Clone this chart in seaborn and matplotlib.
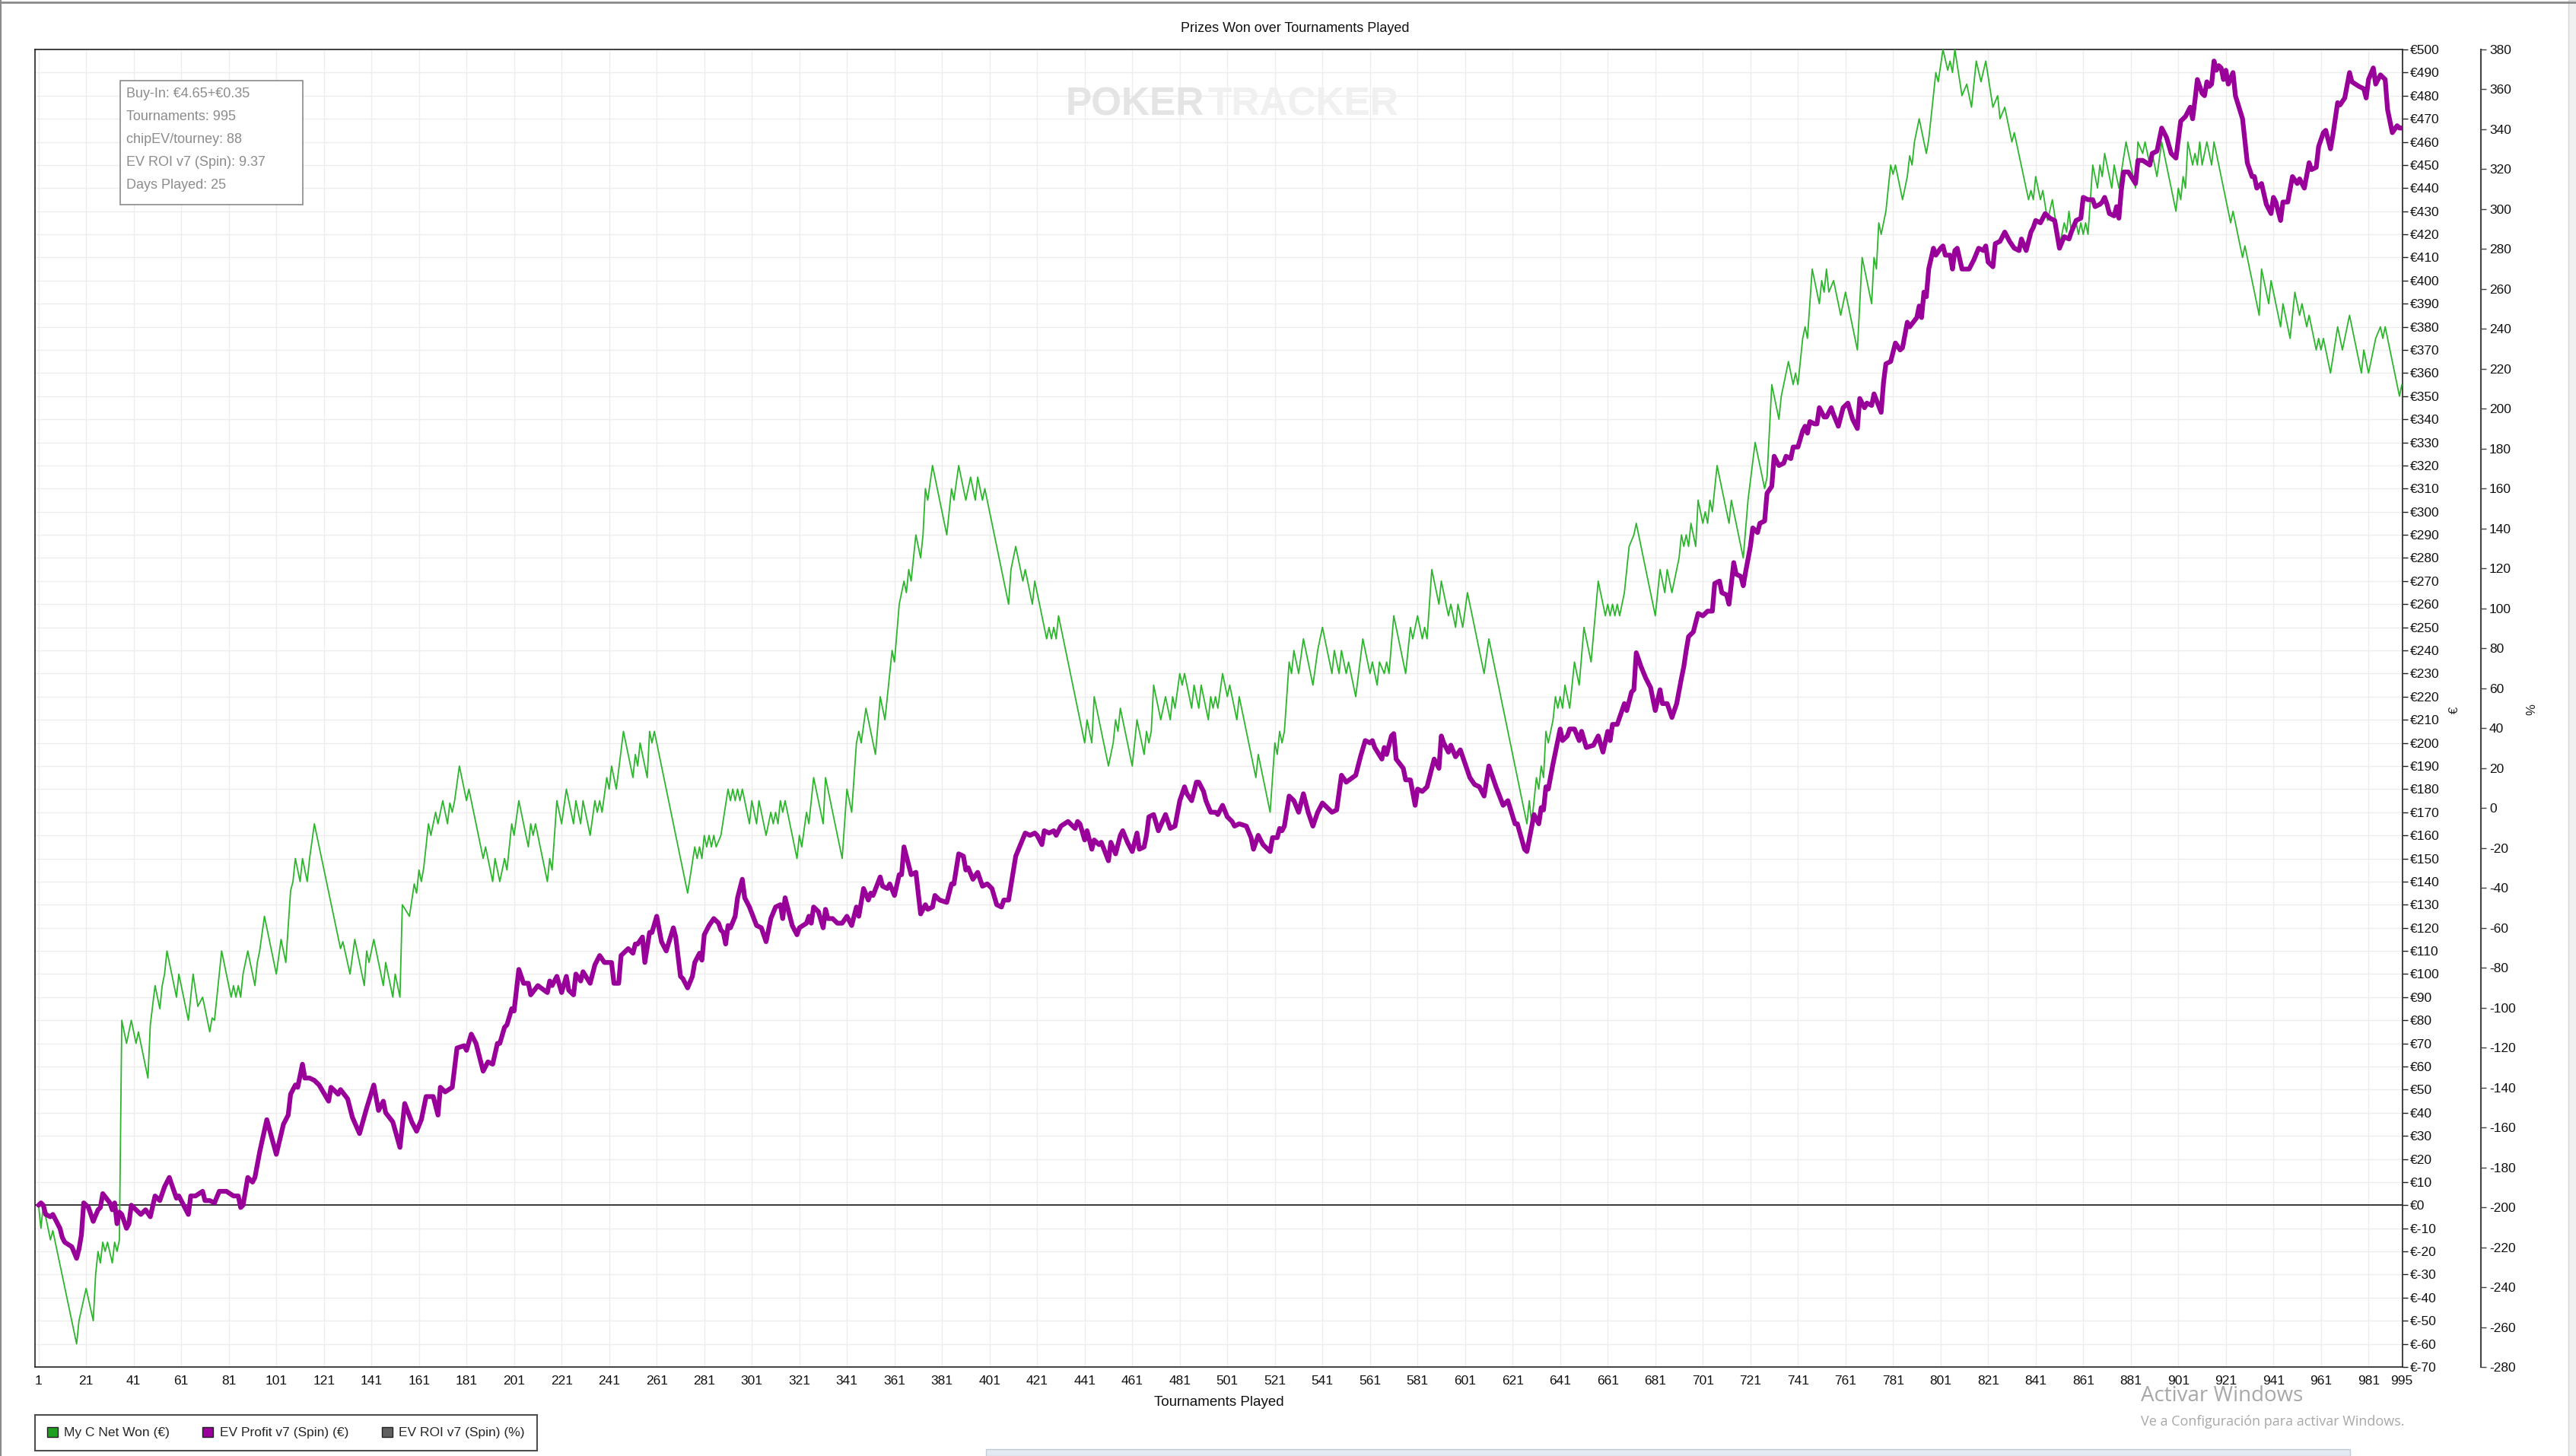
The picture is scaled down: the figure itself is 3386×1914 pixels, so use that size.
import matplotlib
matplotlib.use("Agg")
import matplotlib.pyplot as plt
from matplotlib.patches import Patch, Rectangle
from matplotlib.lines import Line2D
import seaborn as sns
import pandas as pd

# My C Net Won (€) - vertices
green_t = [1, 2, 3, 6, 7, 17, 18, 21, 24, 25,
           26, 27, 28, 29, 30, 32, 33, 34, 35, 36,
           38, 40, 42, 43, 47, 48, 50, 52, 53, 54,
           55, 59, 60, 64, 66, 68, 70, 73, 74, 75,
           78, 82, 83, 84, 85, 86, 87, 89, 92, 93,
           94, 96, 101, 103, 105, 107, 108, 109, 111, 112,
           114, 115, 117, 128, 129, 132, 134, 138, 139, 140,
           142, 146, 147, 150, 151, 153, 154, 157, 159, 160,
           161, 162, 163, 165, 166, 168, 169, 171, 173, 174,
           175, 176, 178, 181, 182, 188, 189, 192, 193, 195,
           197, 198, 200, 201, 203, 207, 208, 209, 210, 215,
           216, 217, 219, 221, 223, 226, 227, 229, 230, 233,
           235, 236, 237, 238, 240, 241, 242, 244, 247, 251,
           252, 253, 254, 257, 258, 259, 260, 274, 277, 278,
           279, 280, 281, 282, 283, 284, 285, 286, 288, 291,
           292, 293, 294, 295, 296, 297, 300, 301, 303, 304,
           307, 309, 310, 311, 312, 313, 314, 315, 320, 321,
           322, 324, 325, 327, 331, 332, 339, 341, 343, 345,
           346, 347, 349, 353, 355, 357, 360, 361, 363, 365,
           366, 367, 368, 370, 372, 373, 374, 375, 377, 383,
           385, 386, 388, 391, 393, 395, 396, 398, 399, 409,
           410, 412, 415, 416, 419, 420, 425, 426, 427, 428,
           429, 430, 441, 442, 444, 445, 451, 453, 454, 455,
           456, 461, 463, 466, 467, 468, 469, 470, 473, 475,
           477, 478, 479, 481, 482, 483, 486, 487, 489, 490,
           493, 494, 495, 496, 497, 499, 501, 502, 505, 506,
           513, 514, 519, 521, 522, 523, 524, 525, 527, 528,
           529, 531, 533, 537, 539, 541, 545, 546, 548, 549,
           551, 552, 555, 558, 561, 562, 564, 565, 567, 568,
           569, 571, 576, 578, 579, 581, 583, 584, 585, 587,
           590, 591, 594, 595, 597, 598, 600, 602, 609, 611,
           627, 628, 629, 631, 632, 633, 634, 635, 636, 638,
           639, 640, 641, 642, 643, 645, 647, 649, 651, 654,
           657, 660, 661, 662, 663, 664, 665, 666, 668, 670,
           672, 673, 681, 683, 685, 686, 688, 691, 692, 693,
           694, 695, 696, 698, 699, 701, 702, 703, 704, 705,
           707, 712, 713, 718, 720, 723, 727, 728, 730, 733,
           734, 737, 739, 740, 741, 743, 744, 745, 747, 750,
           751, 752, 753, 754, 756, 759, 761, 766, 768, 772,
           773, 774, 775, 776, 778, 780, 781, 782, 785, 787,
           788, 789, 790, 792, 795, 796, 799, 800, 802, 804,
           805, 806, 807, 810, 812, 814, 816, 818, 820, 823,
           825, 826, 828, 831, 832, 838, 839, 840, 841, 843,
           844, 846, 848, 851, 853, 854, 855, 856, 858, 859,
           860, 861, 862, 863, 865, 867, 868, 869, 870, 873,
           874, 876, 879, 883, 884, 886, 887, 889, 890, 892,
           894, 900, 901, 902, 903, 904, 905, 907, 908, 909,
           910, 911, 913, 915, 916, 923, 924, 928, 929, 935,
           936, 939, 940, 944, 945, 948, 950, 952, 953, 955,
           956, 959, 960, 961, 962, 965, 968, 970, 973, 978,
           979, 981, 983, 984, 986, 987, 988, 994, 995]
green_v = [0, -10, 0, -15, -11, -60, -50, -36, -50, -30,
           -20, -25, -16, -20, -16, -25, -16, -20, -15, 80,
           70, 80, 70, 75, 55, 78, 95, 85, 95, 100,
           110, 90, 100, 80, 100, 86, 90, 75, 81, 80,
           110, 90, 95, 90, 95, 90, 100, 110, 95, 105,
           110, 125, 100, 115, 105, 136, 140, 150, 140, 150,
           140, 150, 165, 111, 114, 100, 115, 95, 110, 105,
           115, 95, 105, 90, 100, 90, 130, 125, 139, 135,
           145, 140, 146, 165, 160, 170, 165, 175, 165, 174,
           170, 175, 190, 175, 180, 150, 155, 140, 150, 140,
           150, 145, 165, 160, 175, 155, 165, 160, 165, 140,
           150, 145, 175, 165, 180, 165, 175, 165, 175, 160,
           175, 170, 175, 170, 185, 180, 190, 180, 205, 185,
           195, 190, 200, 185, 205, 200, 205, 135, 155, 150,
           155, 150, 160, 155, 160, 155, 160, 155, 160, 180,
           175, 180, 175, 180, 175, 180, 165, 175, 165, 175,
           160, 170, 165, 170, 165, 175, 170, 175, 150, 160,
           155, 170, 165, 185, 165, 185, 150, 180, 170, 200,
           205, 200, 215, 195, 220, 210, 240, 235, 260, 270,
           265, 275, 270, 290, 280, 290, 310, 305, 320, 290,
           310, 305, 320, 305, 315, 305, 315, 305, 310, 260,
           275, 285, 270, 275, 260, 270, 245, 250, 245, 250,
           245, 255, 200, 210, 200, 220, 190, 200, 210, 205,
           215, 190, 210, 195, 205, 200, 205, 225, 210, 220,
           210, 220, 215, 230, 225, 230, 215, 225, 215, 225,
           210, 220, 215, 220, 215, 230, 220, 225, 210, 220,
           185, 195, 170, 200, 195, 205, 200, 205, 235, 230,
           240, 230, 245, 225, 240, 250, 230, 240, 230, 240,
           230, 235, 220, 245, 230, 235, 225, 235, 230, 235,
           230, 255, 230, 250, 245, 255, 245, 250, 245, 275,
           260, 270, 255, 260, 250, 260, 250, 265, 230, 245,
           165, 175, 165, 185, 180, 190, 185, 205, 200, 210,
           220, 215, 220, 215, 225, 215, 235, 225, 250, 235,
           270, 255, 260, 255, 260, 255, 260, 255, 265, 285,
           290, 295, 255, 275, 265, 275, 265, 280, 290, 285,
           290, 285, 295, 285, 305, 295, 300, 295, 305, 300,
           320, 295, 305, 280, 305, 330, 310, 315, 355, 340,
           350, 365, 355, 360, 355, 375, 380, 375, 405, 390,
           400, 395, 405, 395, 400, 385, 395, 370, 410, 390,
           410, 405, 425, 420, 430, 450, 446, 450, 435, 445,
           454, 450, 460, 470, 455, 461, 490, 486, 500, 491,
           495, 490, 500, 480, 485, 475, 495, 486, 495, 475,
           480, 470, 475, 460, 464, 435, 439, 435, 445, 435,
           439, 426, 435, 415, 425, 421, 430, 421, 425, 420,
           425, 420, 425, 420, 450, 440, 450, 445, 455, 440,
           450, 440, 460, 440, 460, 455, 460, 450, 455, 445,
           460, 430, 440, 435, 445, 440, 460, 450, 455, 450,
           460, 450, 460, 450, 460, 425, 430, 410, 415, 385,
           405, 390, 400, 380, 390, 375, 395, 385, 390, 380,
           385, 370, 375, 370, 375, 360, 380, 370, 385, 360,
           370, 360, 370, 375, 380, 375, 380, 350, 355]

# EV Profit v7 (Spin) (€)
purple_t = [1, 2, 3, 4, 6, 7, 8, 10, 11, 12,
            15, 17, 18, 19, 20, 22, 24, 26, 27, 28,
            31, 32, 33, 34, 35, 36, 38, 39, 40, 42,
            43, 44, 46, 48, 50, 52, 54, 56, 59, 60,
            64, 65, 67, 70, 71, 73, 75, 77, 80, 83,
            85, 86, 87, 89, 91, 92, 94, 97, 101, 104,
            106, 107, 109, 110, 112, 113, 115, 117, 119, 123,
            124, 127, 128, 131, 133, 136, 139, 142, 144, 146,
            147, 150, 153, 155, 158, 160, 162, 164, 167, 169,
            170, 172, 175, 177, 180, 181, 183, 185, 186, 188,
            190, 192, 194, 195, 197, 198, 200, 201, 203, 205,
            207, 208, 211, 215, 216, 217, 219, 221, 223, 224,
            226, 227, 229, 230, 233, 235, 237, 239, 242, 243,
            245, 246, 249, 251, 252, 253, 255, 256, 258, 259,
            261, 263, 265, 268, 269, 271, 272, 274, 276, 277,
            279, 280, 281, 283, 285, 287, 288, 289, 290, 291,
            292, 294, 295, 297, 298, 300, 303, 305, 307, 309,
            311, 313, 314, 315, 318, 320, 321, 324, 325, 326,
            327, 329, 331, 332, 333, 335, 337, 339, 341, 343,
            345, 346, 348, 350, 351, 352, 355, 356, 358, 359,
            361, 363, 364, 365, 366, 368, 370, 372, 374, 375,
            377, 378, 380, 383, 385, 386, 388, 390, 391, 392,
            394, 396, 398, 400, 402, 404, 406, 407, 409, 412,
            414, 416, 418, 420, 421, 423, 424, 426, 428, 429,
            431, 434, 435, 437, 438, 439, 441, 442, 444, 445,
            447, 448, 451, 452, 454, 456, 457, 459, 461, 463,
            464, 466, 467, 468, 470, 472, 475, 477, 479, 481,
            483, 484, 486, 488, 489, 491, 492, 494, 496, 497,
            499, 501, 503, 504, 506, 509, 511, 512, 514, 516,
            519, 520, 522, 523, 524, 525, 527, 529, 531, 533,
            535, 537, 539, 541, 545, 547, 549, 551, 555, 557,
            559, 561, 562, 563, 566, 567, 568, 570, 571, 572,
            575, 576, 578, 580, 581, 583, 585, 588, 590, 591,
            592, 594, 595, 597, 599, 600, 603, 605, 607, 609,
            611, 612, 614, 617, 619, 622, 623, 626, 627, 630,
            632, 633, 634, 635, 636, 638, 641, 642, 644, 645,
            647, 649, 650, 652, 655, 657, 659, 661, 662, 663,
            665, 668, 669, 671, 672, 673, 675, 677, 679, 681,
            683, 684, 686, 688, 690, 692, 693, 694, 695, 697,
            699, 701, 703, 705, 706, 708, 709, 711, 712, 714,
            715, 717, 718, 719, 721, 722, 724, 725, 727, 728,
            730, 731, 733, 735, 736, 738, 739, 741, 743, 744,
            745, 746, 748, 749, 750, 752, 753, 755, 756, 758,
            760, 762, 764, 766, 767, 769, 770, 772, 773, 776,
            777, 778, 780, 782, 784, 785, 787, 788, 791, 792,
            793, 794, 795, 796, 798, 799, 801, 802, 803, 805,
            806, 807, 808, 810, 813, 815, 817, 819, 820, 821,
            823, 824, 826, 828, 830, 832, 834, 835, 837, 839,
            840, 841, 843, 845, 847, 849, 851, 853, 855, 856,
            858, 860, 861, 863, 865, 866, 868, 869, 870, 871,
            872, 874, 875, 876, 877, 878, 880, 883, 884, 886,
            889, 890, 892, 894, 896, 898, 900, 901, 902, 904,
            905, 906, 907, 908, 909, 911, 912, 913, 914, 915,
            916, 917, 918, 919, 920, 921, 922, 924, 925, 928,
            930, 932, 933, 934, 936, 938, 940, 941, 942, 944,
            945, 947, 949, 951, 952, 954, 956, 957, 959, 960,
            962, 963, 965, 966, 968, 969, 971, 973, 974, 977,
            979, 980, 981, 983, 984, 986, 987, 988, 989, 991,
            993, 994, 995]
purple_v = [0, 1, 0, -4, -5, -4, -6, -10, -14, -16,
            -18, -23, -19, -13, 1, -1, -7, -2, -1, 5,
            1, -2, 1, -8, -3, -4, -10, -8, 0, -2,
            -3, -4, -2, -5, 4, 2, 8, 12, 3, 4,
            -4, 4, 4, 6, 2, 2, 1, 6, 6, 4,
            4, -1, 0, 12, 10, 12, 23, 37, 22, 35,
            39, 48, 52, 51, 61, 55, 55, 54, 52, 45,
            51, 48, 50, 46, 38, 31, 42, 52, 41, 45,
            40, 36, 25, 44, 36, 32, 37, 47, 47, 39,
            51, 49, 51, 68, 69, 67, 74, 70, 66, 58,
            62, 61, 70, 70, 77, 78, 85, 84, 102, 96,
            96, 91, 95, 92, 97, 95, 99, 92, 99, 93,
            91, 100, 97, 101, 96, 104, 108, 105, 105, 96,
            96, 108, 111, 109, 113, 113, 116, 105, 118, 118,
            125, 114, 110, 120, 116, 99, 98, 94, 99, 105,
            109, 106, 117, 121, 124, 122, 119, 118, 113, 121,
            120, 125, 133, 141, 133, 129, 121, 120, 114, 124,
            129, 130, 124, 133, 121, 117, 120, 122, 125, 122,
            129, 127, 120, 128, 124, 124, 122, 122, 125, 121,
            129, 125, 137, 132, 135, 134, 142, 138, 137, 139,
            134, 143, 143, 155, 151, 143, 144, 126, 130, 128,
            129, 134, 132, 131, 139, 139, 152, 151, 145, 146,
            141, 144, 138, 139, 137, 130, 129, 132, 132, 151,
            156, 161, 160, 161, 160, 156, 162, 161, 162, 160,
            164, 166, 165, 163, 166, 165, 158, 162, 154, 158,
            156, 157, 149, 157, 152, 160, 162, 157, 153, 161,
            154, 155, 160, 168, 169, 162, 169, 163, 164, 175,
            181, 178, 175, 183, 183, 179, 175, 170, 170, 169,
            173, 168, 166, 164, 165, 164, 159, 154, 160, 156,
            153, 159, 159, 163, 162, 164, 177, 175, 170, 178,
            170, 164, 170, 174, 170, 171, 186, 183, 186, 194,
            201, 200, 201, 198, 193, 198, 195, 203, 204, 193,
            189, 184, 184, 173, 180, 179, 181, 193, 189, 203,
            200, 196, 199, 194, 197, 194, 185, 182, 181, 177,
            190, 187, 181, 173, 175, 165, 165, 154, 153, 169,
            165, 172, 171, 181, 180, 191, 206, 201, 203, 206,
            206, 201, 205, 198, 199, 203, 196, 205, 201, 208,
            208, 217, 214, 222, 223, 239, 233, 228, 224, 214,
            223, 217, 217, 211, 217, 228, 233, 240, 246, 248,
            256, 255, 257, 257, 269, 270, 265, 264, 260, 278,
            273, 272, 268, 274, 285, 293, 291, 295, 296, 308,
            311, 324, 320, 321, 324, 323, 328, 328, 335, 337,
            334, 339, 338, 338, 345, 341, 341, 345, 342, 337,
            345, 347, 340, 336, 349, 345, 347, 346, 351, 343,
            356, 364, 365, 373, 370, 371, 382, 380, 384, 389,
            384, 395, 393, 405, 414, 411, 414, 415, 411, 411,
            405, 413, 414, 405, 405, 409, 414, 413, 415, 408,
            406, 416, 417, 421, 417, 414, 413, 418, 413, 421,
            423, 426, 425, 429, 427, 426, 414, 419, 418, 421,
            426, 427, 436, 435, 435, 432, 433, 434, 436, 433,
            429, 428, 432, 427, 439, 447, 447, 442, 452, 452,
            450, 455, 456, 466, 462, 455, 453, 461, 469, 471,
            473, 475, 470, 478, 487, 481, 480, 486, 484, 485,
            495, 491, 493, 492, 487, 491, 485, 490, 480, 470,
            451, 445, 445, 440, 442, 433, 429, 436, 434, 426,
            434, 434, 445, 442, 444, 440, 451, 448, 449, 458,
            464, 465, 457, 463, 477, 476, 479, 490, 486, 484,
            483, 479, 487, 492, 485, 489, 488, 487, 474, 464,
            467, 466, 466]

euro_ticks = list(range(-70, 501, 10))
pct_ticks = list(range(-280, 381, 20))
x_ticks = list(range(1, 982, 20)) + [995]

info_lines = ["Buy-In: €4.65+€0.35", "Tournaments: 995", "chipEV/tourney: 88",
              "EV ROI v7 (Spin): 9.37", "Days Played: 25"]
legend_names = ["My C Net Won (€)", "EV Profit v7 (Spin) (€)", "EV ROI v7 (Spin) (%)"]
legend_colors = ["#1f9f1f", "#990099", "#606060"]

sns.set_style("white")
plt.rcParams["font.family"] = ["Liberation Sans", "DejaVu Sans"]
plt.rcParams["axes.unicode_minus"] = False

W, H = 3387, 1914
fig = plt.figure(figsize=(W / 100, H / 100), dpi=100)
L, R, T, B = 46, 3158, 65, 1797
ax = fig.add_axes([L / W, 1 - B / H, (R - L) / W, (B - T) / H])

df_green = pd.DataFrame({"t": green_t, "v": green_v})
df_purple = pd.DataFrame({"t": purple_t, "v": purple_v})

ax.axhline(0, color="#2a2a2a", lw=1.3, zorder=1.5)
sns.lineplot(data=df_green, x="t", y="v", ax=ax, color="#2db52d", linewidth=1.3,
             estimator=None, sort=False, zorder=3)
sns.lineplot(data=df_purple, x="t", y="v", ax=ax, color="#990099", linewidth=4.5,
             estimator=None, sort=False, zorder=4)

ax.set_xlim(-0.5, 995.3)
ax.set_ylim(-70, 500)
ax.set_xticks(x_ticks)
ax.set_xticklabels([str(x) for x in x_ticks])
ax.set_yticks(euro_ticks)
ax.set_yticklabels([f"€{v}" for v in euro_ticks])
ax.grid(True, color="#ededed", lw=1.0)
ax.set_axisbelow(True)
ax.set_xlabel("")
ax.set_ylabel("")
for s in ax.spines.values():
    s.set_visible(True)
    s.set_color("#222222")
    s.set_linewidth(1.2)

ax2 = ax.twinx()
ax2.set_ylim(-280, 380)
ax2.set_yticks(pct_ticks)
ax2.set_yticklabels([str(v) for v in pct_ticks])
ax2.grid(False)
for side in ["top", "left", "bottom"]:
    ax2.spines[side].set_visible(False)
ax2.spines["right"].set_position(("outward", (3261 - R) * 0.72))
ax2.spines["right"].set_color("#444444")
ax2.spines["right"].set_linewidth(1.5)
ax2.tick_params(axis="y", direction="out", length=5, width=1, labelsize=12.5,
                color="#444444", labelcolor="#111111", pad=3)

# euro labels sit on the right of the plot box (twinx moves them left, so set after)
ax.yaxis.tick_right()
ax.tick_params(axis="both", direction="out", length=5, width=1, labelsize=12.5,
               color="#222222", labelcolor="#111111")
ax.tick_params(axis="y", pad=2)
ax.tick_params(axis="x", pad=3)

fig.text(1702 / W, 1 - 37 / H, "Prizes Won over Tournaments Played", ha="center",
         va="center", fontsize=13, color="#111111")
fig.text(1602 / W, 1 - 1843 / H, "Tournaments Played", ha="center", va="center",
         fontsize=13.5, color="#111111")
fig.text(3226 / W, 1 - 933 / H, "€", ha="center", va="center", rotation=90, fontsize=12)
fig.text(3328 / W, 1 - 933 / H, "%", ha="center", va="center", rotation=90, fontsize=12)

# stats box
fig.add_artist(Rectangle((158 / W, 1 - 269 / H), 240 / W, 163 / H, transform=fig.transFigure,
                         facecolor="white", edgecolor="#8a8a8a", lw=1.2, zorder=5))
for i, line in enumerate(info_lines):
    fig.text(166 / W, 1 - (124 + 30 * i) / H, line, ha="left", va="center", fontsize=13,
             color="#8c8c8c", zorder=6)

# watermark
fig.text(1583 / W, 1 - 138 / H, "POKER", ha="right", va="center", fontsize=37,
         fontweight="bold", color="#e4e4e4", zorder=0.5)
fig.text(1587 / W, 1 - 138 / H, "TRACKER", ha="left", va="center", fontsize=37,
         fontweight="bold", color="#f0f0f0", zorder=0.5)

handles = [Patch(facecolor=c, edgecolor="#222222", lw=1) for c in legend_colors]
leg = fig.legend(handles, legend_names, loc="lower left", bbox_to_anchor=(46 / W, 1 - 1907 / H),
                 ncol=3, frameon=True, fancybox=False, fontsize=12.5, handlelength=0.8,
                 handleheight=0.8, handletextpad=0.5, columnspacing=2.5, borderpad=0.9,
                 borderaxespad=0)
leg.get_frame().set_edgecolor("#222222")
leg.get_frame().set_linewidth(1.5)

# windows activation overlay
fig.text(2814 / W, 1 - 1835 / H, "Activar Windows", ha="left", va="center", fontsize=20,
         family=["Open Sans", "DejaVu Sans"], color="#a8a8a8")
fig.text(2814 / W, 1 - 1869 / H, "Ve a Configuración para activar Windows.", ha="left",
         va="center", fontsize=13, family=["Open Sans", "DejaVu Sans"], color="#a8a8a8")

# window frame bits
fig.add_artist(Line2D([0, 1], [1 - 3 / H, 1 - 3 / H], transform=fig.transFigure,
                      color="#8a8a8a", lw=2))
fig.add_artist(Line2D([1 / W, 1 / W], [0, 1], transform=fig.transFigure, color="#8a8a8a", lw=1.5))
fig.add_artist(Rectangle((3376 / W, 0), 11 / W, 1, transform=fig.transFigure,
                         facecolor="#f0f0f0", edgecolor="#d4d4d4", lw=1))
fig.add_artist(Rectangle((1296 / W, 0), (3089 - 1296) / W, 9 / H, transform=fig.transFigure,
                         facecolor="#e3eaf1", edgecolor="#c2cad2", lw=1))

fig.savefig("out.png", dpi=100)
